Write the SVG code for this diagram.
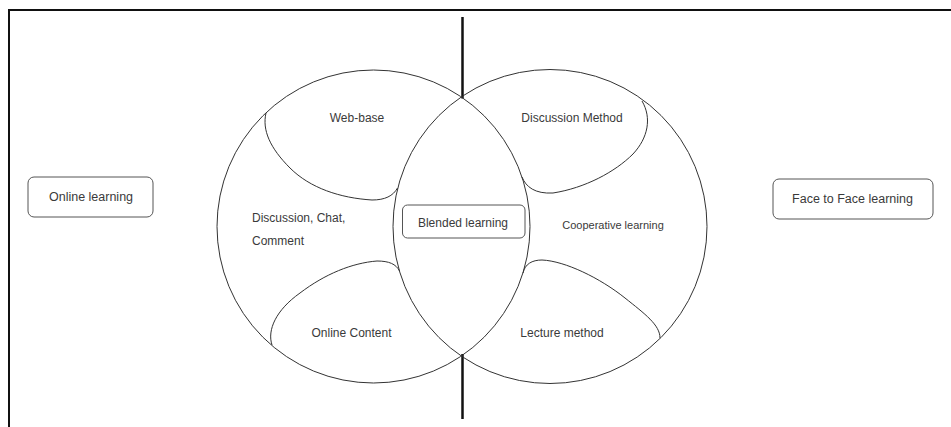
<svg xmlns="http://www.w3.org/2000/svg" width="951" height="427" viewBox="0 0 951 427">
<style>
.frame{fill:none;stroke:#111;stroke-width:2}
.axis{fill:none;stroke:#111;stroke-width:2.5}
.ring{fill:none;stroke:#333;stroke-width:1}
.lobe{fill:none;stroke:#333;stroke-width:1}
.box{fill:#fff;stroke:#555;stroke-width:1}
.t{font-family:"Liberation Sans",Arial,sans-serif;font-size:12px;fill:#3a3a3a}
.c{text-anchor:middle}
</style>
<rect width="951" height="427" fill="#fff"/>
<path class="frame" d="M9,427 L9,10 L951,10"/>
<g id="connectors">
<line class="axis" x1="462.5" y1="17" x2="462.5" y2="98.5"/>
<line class="axis" x1="462.5" y1="354" x2="462.5" y2="419"/>
</g>
<g id="online-circle">
<circle class="ring" cx="373.5" cy="226.5" r="156.5"/>
</g>
<g id="face-circle">
<circle class="ring" cx="550" cy="226.5" r="157"/>
</g>
<g id="web-base">
<path class="lobe" d="M266,113 C262,130 270,148 290,168 C310,188 340,198 372,200 C385,200 393,196 397.5,188"/>
<text class="t c" x="357" y="122">Web-base</text>
</g>
<g id="discussion-method">
<path class="lobe" d="M642,101 C652,118 648,138 633,154 C615,172 585,188 553,193 C535,194 526,187 522,177"/>
<text class="t c" x="572" y="122">Discussion Method</text>
</g>
<g id="discussion-chat">
<text class="t" x="252" y="222">Discussion, Chat,</text>
<text class="t" x="252" y="245">Comment</text>
</g>
<g id="online-content">
<path class="lobe" d="M272,345 C267,330 276,310 300,293 C325,274 352,263 377,261 C389,261 396,264 399.5,271"/>
<text class="t c" x="351.5" y="337">Online Content</text>
</g>
<g id="lecture-method">
<path class="lobe" d="M523,273 C525,264 532,260 542,260 C565,261 600,278 625,298 C645,314 660,325 660,338"/>
<text class="t c" x="562" y="337">Lecture method</text>
</g>
<g id="cooperative-learning">
<text class="t c" x="613" y="229" style="font-size:11px">Cooperative learning</text>
</g>
<g id="online-learning">
<rect class="box" x="28" y="177" width="125" height="40" rx="6"/>
<text class="t c" x="91" y="201" style="font-size:12.5px">Online learning</text>
</g>
<g id="face-to-face">
<rect class="box" x="773" y="179" width="160" height="40" rx="6"/>
<text class="t c" x="852.5" y="203" style="font-size:12.5px">Face to Face learning</text>
</g>
<g id="blended-learning">
<rect class="box" x="402.5" y="205" width="122.5" height="33" rx="5"/>
<text class="t c" x="463" y="226.5">Blended learning</text>
</g>
</svg>
